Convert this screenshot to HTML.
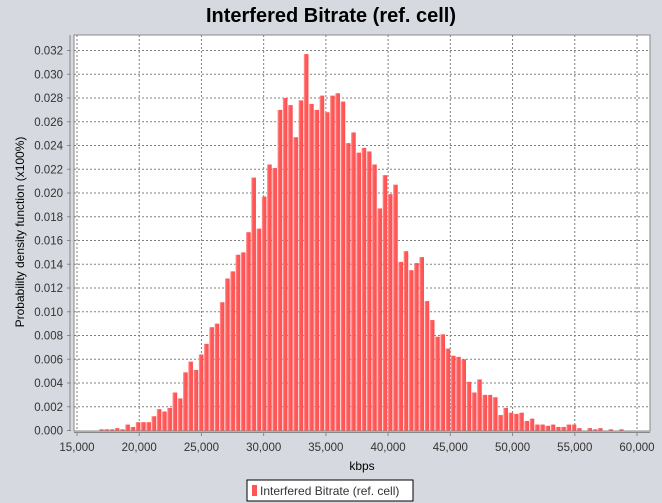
<!DOCTYPE html>
<html><head><meta charset="utf-8"><style>
html,body{margin:0;padding:0;background:#d6d9df;}
svg{display:block;font-family:"Liberation Sans",sans-serif;}
</style></head><body>
<svg id="chart" width="662" height="503" viewBox="0 0 662 503">
<defs>
<linearGradient id="bg" x1="0" x2="1" y1="0" y2="0">
<stop offset="0" stop-color="#ffa0a0"/><stop offset="0.35" stop-color="#ff5a5a"/><stop offset="1" stop-color="#ff5050"/>
</linearGradient>
</defs>
<rect x="0" y="0" width="662" height="503" fill="#d6d9df"/>
<text x="331" y="22" text-anchor="middle" font-size="20" font-weight="bold">Interfered Bitrate (ref. cell)</text>
<rect x="74" y="35" width="576" height="396" fill="#ffffff" stroke="#888" stroke-width="1"/>
<g id="grid"></g>
<g id="bars"></g>
<g id="axes"></g>
<text x="362" y="470" text-anchor="middle" font-size="12">kbps</text>
<text transform="translate(24,232) rotate(-90)" text-anchor="middle" font-size="12">Probability density function (x100%)</text>
<g>
<rect x="247" y="480" width="166" height="21" fill="#fff" stroke="#000" stroke-width="1"/>
<rect x="252" y="485" width="5" height="11" fill="#ff5555"/>
<text x="260" y="495" font-size="12" fill="#333">Interfered Bitrate (ref. cell)</text>
</g>
</svg>
<script>
const values = [0.0001,0.0001,0.0001,0.0002,0.0001,0.0005,0.0003,0.0007,0.0007,0.0007,
0.0012,0.0018,0.0016,0.0019,0.0032,0.0027,0.0049,0.0058,0.0051,0.0064,
0.0073,0.0087,0.0090,0.0108,0.0128,0.0134,0.0148,0.0150,0.0167,0.0213,
0.0170,0.0197,0.0224,0.0221,0.0270,0.0280,0.0274,0.0247,0.0278,0.0317,
0.0275,0.0270,0.0282,0.0268,0.0282,0.0284,0.0277,0.0242,0.0251,0.0234,
0.0238,0.0235,0.0224,0.0187,0.0215,0.0199,0.0207,0.0142,0.0151,0.0135,
0.0141,0.0146,0.0109,0.0093,0.0079,0.0081,0.0069,0.0063,0.0062,0.0060,
0.0041,0.0032,0.0043,0.0030,0.0030,0.0028,0.0013,0.0019,0.0015,0.0014,
0.0015,0.0008,0.0010,0.0005,0.0005,0.0004,0.0005,0.0003,0.0003,0.0005,
0.0005,0.0002,0,0.0002,0.0001,0.0002,0,0.0001,0,0.0001];
const binStart = 16768;
const binWidth = 422;
const xTicks = [15000,20000,25000,30000,35000,40000,45000,50000,55000,60000];
const yTicks = [0,0.002,0.004,0.006,0.008,0.010,0.012,0.014,0.016,0.018,0.020,0.022,0.024,0.026,0.028,0.030,0.032];
const NS='http://www.w3.org/2000/svg';
function xs(v){return 77+(v-15000)*(560/45000);}
function ys(v){return 430.5-v*(380/0.032);}
function mk(tag,attrs,parent){const e=document.createElementNS(NS,tag);for(const k in attrs)e.setAttribute(k,attrs[k]);parent.appendChild(e);return e;}
const grid=document.getElementById('grid'),bars=document.getElementById('bars'),axes=document.getElementById('axes');
xTicks.forEach(t=>{const x=xs(t);
 const g=mk('line',{x1:x,x2:x,y1:35,y2:431,stroke:'#808080','stroke-dasharray':'2,2','stroke-width':1},grid);
 
 
 const tk=mk('line',{x1:x,x2:x,y1:432,y2:436,stroke:'#888'},axes);
 
 
 const lb=mk('text',{x:x,y:451,'text-anchor':'middle','font-size':'11.5',fill:'#333'},axes);
 lb.textContent=t.toLocaleString('en-US');
 
 
});
yTicks.forEach(t=>{const y=ys(t);
 if(t>0){const g=mk('line',{x1:74,x2:650,y1:y,y2:y,stroke:'#808080','stroke-dasharray':'2,2','stroke-width':1},grid);
 
 }
 const tk=mk('line',{x1:67,x2:71,y1:y,y2:y,stroke:'#888'},axes);
 
 
 const lb=mk('text',{x:63,y:y+4,'text-anchor':'end','font-size':'11.5',fill:'#333'},axes);
 lb.textContent=t.toFixed(3);
 
 
});
const ax=mk('line',{x1:74,x2:650,y1:432.5,y2:432.5,stroke:'#888','stroke-width':1},axes);


const ay=mk('line',{x1:70,x2:70,y1:35,y2:431,stroke:'#888','stroke-width':1},axes);


values.forEach((v,i)=>{if(v<=0)return;
 const x0=xs(binStart+i*binWidth),x1=xs(binStart+(i+1)*binWidth);
 const y=ys(v);
 const r=mk('rect',{x:x0,y:y,width:Math.max(x1-x0-0.6,1),height:430.5-y,fill:'url(#bg)'},bars);
 
 
});
</script>
</body></html>
